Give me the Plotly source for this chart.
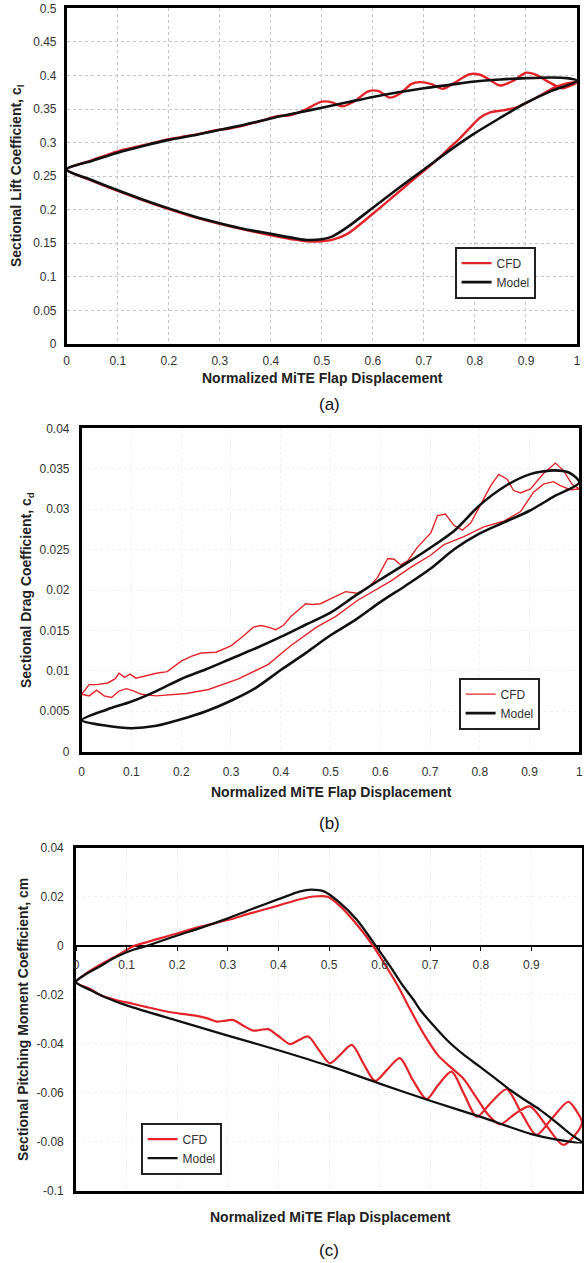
import plotly.graph_objects as go

W, H = 584, 1263
RED = "#e3242b"
BLACK = "#111111"
FONT = "Liberation Sans, Arial, sans-serif"

# ---------------- (a) sectional lift coefficient ----------------
lift_cfd_up_x = [0, 0.05, 0.1, 0.15, 0.2, 0.23, 0.26, 0.29, 0.32, 0.35, 0.38, 0.41, 0.44, 0.47,
                 0.5, 0.52, 0.54, 0.565, 0.59, 0.61, 0.633, 0.655, 0.675, 0.692, 0.715, 0.737,
                 0.76, 0.79, 0.81, 0.83, 0.849, 0.875, 0.9, 0.92, 0.945, 0.97, 0.985, 1.0]
lift_cfd_up_y = [0.26, 0.274, 0.287, 0.296, 0.305, 0.309, 0.313, 0.318, 0.321, 0.326, 0.332, 0.339,
                 0.341, 0.35, 0.361, 0.36, 0.354, 0.362, 0.376, 0.377, 0.367, 0.374, 0.387, 0.39,
                 0.387, 0.38, 0.389, 0.402, 0.401, 0.393, 0.385, 0.392, 0.404, 0.401, 0.39, 0.381,
                 0.384, 0.39]
lift_cfd_dn_x = [0.985, 0.97, 0.953, 0.935, 0.908, 0.88, 0.855, 0.83, 0.81, 0.79, 0.77, 0.75,
                 0.725, 0.7, 0.65, 0.6, 0.55, 0.52, 0.5, 0.47, 0.45, 0.4, 0.35, 0.3, 0.25, 0.2,
                 0.15, 0.1, 0.05, 0]
lift_cfd_dn_y = [0.389, 0.386, 0.381, 0.373, 0.362, 0.352, 0.348, 0.345, 0.337, 0.322, 0.306,
                 0.292, 0.274, 0.258, 0.226, 0.194, 0.164, 0.155, 0.153, 0.153, 0.155, 0.162,
                 0.17, 0.179, 0.189, 0.201, 0.214, 0.228, 0.243, 0.26]
lift_model_up_x = [0, 0.05, 0.1, 0.15, 0.2, 0.25, 0.3, 0.35, 0.4, 0.45, 0.5, 0.55, 0.6, 0.65,
                   0.7, 0.75, 0.8, 0.85, 0.9, 0.95, 0.98, 1.0]
lift_model_up_y = [0.26, 0.273, 0.285, 0.295, 0.304, 0.311, 0.319, 0.327, 0.336, 0.344, 0.352,
                   0.36, 0.368, 0.375, 0.381, 0.386, 0.391, 0.394, 0.396, 0.397, 0.396, 0.392]
lift_model_dn_x = [0.95, 0.9, 0.85, 0.8, 0.75, 0.7, 0.65, 0.6, 0.55, 0.52, 0.5, 0.47, 0.45, 0.4,
                   0.35, 0.3, 0.25, 0.2, 0.15, 0.1, 0.05, 0]
lift_model_dn_y = [0.377, 0.359, 0.337, 0.314, 0.288, 0.26, 0.232, 0.203, 0.174, 0.16, 0.156,
                   0.155, 0.157, 0.164, 0.171, 0.18, 0.19, 0.202, 0.215, 0.229, 0.244, 0.26]

# ---------------- (b) sectional drag coefficient ----------------
drag_cfd_up_x = [0, 0.015, 0.03, 0.052, 0.067, 0.075, 0.086, 0.097, 0.109, 0.13, 0.15, 0.172,
                 0.2, 0.22, 0.24, 0.27, 0.3, 0.325, 0.345, 0.36, 0.375, 0.39, 0.405, 0.42, 0.434,
                 0.45, 0.464, 0.48, 0.5, 0.53, 0.554, 0.574, 0.594, 0.615, 0.628, 0.641, 0.655,
                 0.675, 0.702, 0.715, 0.731, 0.748, 0.765, 0.782, 0.802, 0.822, 0.838, 0.855,
                 0.868, 0.882, 0.902, 0.928, 0.952, 0.968, 0.985, 1.0]
drag_cfd_up_y = [0.0071, 0.0083, 0.0083, 0.0085, 0.009, 0.0097, 0.0092, 0.0096, 0.0091, 0.0094,
                 0.0097, 0.0099, 0.0112, 0.0118, 0.0122, 0.0123, 0.0131, 0.0143, 0.0154, 0.0156,
                 0.0154, 0.0151, 0.0156, 0.0167, 0.0175, 0.0183, 0.0182, 0.0183, 0.0189, 0.0198,
                 0.0196, 0.0202, 0.0215, 0.0239, 0.0238, 0.0231, 0.0236, 0.0253, 0.0271, 0.0292,
                 0.0294, 0.028, 0.0274, 0.0283, 0.0306, 0.0329, 0.0343, 0.0337, 0.0323, 0.032,
                 0.0325, 0.0344, 0.0357, 0.0348, 0.0331, 0.0325]
drag_cfd_dn_x = [0.982, 0.962, 0.948, 0.928, 0.908, 0.882, 0.848, 0.808, 0.768, 0.728, 0.701,
                 0.661, 0.621, 0.554, 0.51, 0.472, 0.42, 0.375, 0.315, 0.255, 0.21, 0.15, 0.12,
                 0.105, 0.09, 0.075, 0.06, 0.045, 0.03, 0.015, 0]
drag_cfd_dn_y = [0.0324, 0.0329, 0.0334, 0.0331, 0.0321, 0.0297, 0.0285, 0.0278, 0.0266, 0.0256,
                 0.0243, 0.0228, 0.0211, 0.0187, 0.0167, 0.0154, 0.0131, 0.0108, 0.009, 0.0077,
                 0.0072, 0.0069, 0.0071, 0.0075, 0.0078, 0.0075, 0.0067, 0.0069, 0.0076, 0.0069,
                 0.0071]
drag_model_up_x = [0, 0.05, 0.1, 0.15, 0.2, 0.25, 0.3, 0.35, 0.4, 0.45, 0.5, 0.55, 0.6, 0.65,
                   0.7, 0.75, 0.8, 0.85, 0.9, 0.95, 0.98, 1.0]
drag_model_up_y = [0.0039, 0.0052, 0.0062, 0.0075, 0.009, 0.0102, 0.0115, 0.0128, 0.0142,
                   0.0157, 0.0172, 0.0193, 0.0213, 0.0232, 0.0252, 0.0274, 0.0305, 0.0328,
                   0.0343, 0.0348, 0.0345, 0.0333]
drag_model_dn_x = [0.95, 0.9, 0.85, 0.8, 0.75, 0.7, 0.65, 0.6, 0.55, 0.5, 0.45, 0.4, 0.35, 0.3,
                   0.25, 0.2, 0.15, 0.1, 0.05, 0]
drag_model_dn_y = [0.0316, 0.0298, 0.0284, 0.027, 0.0251, 0.0226, 0.0205, 0.0185, 0.0163,
                   0.0144, 0.0122, 0.0101, 0.0079, 0.0063, 0.005, 0.004, 0.0032, 0.0029, 0.0032,
                   0.0039]

# ---------------- (c) sectional pitching moment coefficient ----------------
mom_cfd_up_x = [0, 0.02, 0.047, 0.075, 0.1, 0.113, 0.14, 0.179, 0.245, 0.3, 0.344, 0.4, 0.443,
                0.47, 0.497, 0.522, 0.555, 0.588, 0.621, 0.64, 0.66, 0.686, 0.716, 0.742, 0.765,
                0.79, 0.815, 0.838, 0.868, 0.897, 0.93, 0.963, 0.985, 1.0]
mom_cfd_up_y = [-0.0148, -0.0113, -0.0078, -0.0047, -0.0017, -0.0002, 0.0015, 0.0038, 0.0077,
                0.0105, 0.0132, 0.0164, 0.019, 0.0201, 0.02, 0.0162, 0.0087, -0.0003, -0.0111,
                -0.0178, -0.0258, -0.0355, -0.0448, -0.0498, -0.054, -0.0615, -0.069, -0.0728,
                -0.0685, -0.0655, -0.0735, -0.0812, -0.0775, -0.072]
mom_cfd_dn_x = [0.988, 0.973, 0.94, 0.91, 0.88, 0.851, 0.82, 0.792, 0.767, 0.742, 0.715, 0.693,
                0.665, 0.64, 0.615, 0.591, 0.568, 0.545, 0.522, 0.502, 0.48, 0.459, 0.44, 0.423,
                0.4, 0.38, 0.365, 0.35, 0.33, 0.311, 0.295, 0.278, 0.26, 0.239, 0.21, 0.179,
                0.14, 0.107, 0.08, 0.047, 0.03, 0]
mom_cfd_dn_y = [-0.067, -0.0636, -0.0705, -0.0771, -0.068, -0.0585, -0.064, -0.0697, -0.0605,
                -0.0513, -0.057, -0.0625, -0.0545, -0.0458, -0.0505, -0.0551, -0.048, -0.0404,
                -0.0445, -0.0479, -0.0425, -0.037, -0.0385, -0.0401, -0.0368, -0.034, -0.0343,
                -0.0346, -0.0325, -0.0303, -0.0305, -0.0309, -0.0296, -0.0286, -0.0278,
                -0.0268, -0.025, -0.0234, -0.0222, -0.02, -0.0178, -0.0148]
mom_model_up_x = [0, 0.02, 0.047, 0.08, 0.113, 0.14, 0.2, 0.245, 0.3, 0.344, 0.4, 0.443, 0.465,
                  0.49, 0.52, 0.555, 0.591, 0.621, 0.645, 0.667, 0.68, 0.7, 0.733, 0.765, 0.798,
                  0.828, 0.858, 0.888, 0.917, 0.94, 0.963, 0.98, 1.0]
mom_model_up_y = [-0.0148, -0.0115, -0.0084, -0.0045, -0.0016, 0.0, 0.0042, 0.0072, 0.0112,
                  0.0147, 0.019, 0.0222, 0.0229, 0.0222, 0.0178, 0.0106, 0.0004, -0.0084,
                  -0.016, -0.022, -0.0261, -0.031, -0.0384, -0.0442, -0.0493, -0.054, -0.0588,
                  -0.063, -0.0669, -0.0705, -0.0744, -0.0772, -0.0802]
mom_model_dn_x = [0.95, 0.9, 0.8, 0.7, 0.6, 0.5, 0.4, 0.3, 0.2, 0.1, 0.06, 0.03, 0]
mom_model_dn_y = [-0.079, -0.0768, -0.0698, -0.0632, -0.0562, -0.049, -0.0426, -0.0366,
                  -0.0305, -0.0243, -0.0212, -0.0182, -0.0148]

# ---------------- axis ticks ----------------
x_tickvals = [0, 0.1, 0.2, 0.3, 0.4, 0.5, 0.6, 0.7, 0.8, 0.9, 1]
x_ticktext = ["0", "0.1", "0.2", "0.3", "0.4", "0.5", "0.6", "0.7", "0.8", "0.9", "1"]
mom_x_tickvals = [0, 0.1, 0.2, 0.3, 0.4, 0.5, 0.6, 0.7, 0.8, 0.9]
mom_x_ticktext = ["0", "0.1", "0.2", "0.3", "0.4", "0.5", "0.6", "0.7", "0.8", "0.9"]
lift_tickvals = [0, 0.05, 0.1, 0.15, 0.2, 0.25, 0.3, 0.35, 0.4, 0.45, 0.5]
lift_ticktext = ["0", "0.05", "0.1", "0.15", "0.2", "0.25", "0.3", "0.35", "0.4", "0.45", "0.5"]
drag_tickvals = [0, 0.005, 0.01, 0.015, 0.02, 0.025, 0.03, 0.035, 0.04]
drag_ticktext = ["0", "0.005", "0.01", "0.015", "0.02", "0.025", "0.03", "0.035", "0.04"]
mom_tickvals = [-0.1, -0.08, -0.06, -0.04, -0.02, 0, 0.02, 0.04]
mom_ticktext = ["-0.1", "-0.08", "-0.06", "-0.04", "-0.02", "0", "0.02", "0.04"]

X_TITLE = "Normalized MiTE Flap Displacement"


def px(p):
    return p / W


def py(p):
    return 1 - p / H


fig = go.Figure()


def add_pair(cx, cy, mx, my, xa, ya, legend, red_w, black_w, red_shape, xa_model=None):
    fig.add_trace(go.Scatter(x=cx, y=cy, mode="lines", name="CFD", xaxis=xa, yaxis=ya,
                             legend=legend,
                             line=dict(color=RED, width=red_w, shape=red_shape, smoothing=0.8)))
    fig.add_trace(go.Scatter(x=mx, y=my, mode="lines", name="Model",
                             xaxis=xa_model or xa, yaxis=ya, legend=legend,
                             line=dict(color=BLACK, width=black_w, shape="spline",
                                       smoothing=0.8)))


add_pair(lift_cfd_up_x + lift_cfd_dn_x, lift_cfd_up_y + lift_cfd_dn_y,
         lift_model_up_x + lift_model_dn_x, lift_model_up_y + lift_model_dn_y,
         "x", "y", "legend", 2.4, 2.6, "spline")
add_pair(drag_cfd_up_x + drag_cfd_dn_x, drag_cfd_up_y + drag_cfd_dn_y,
         drag_model_up_x + drag_model_dn_x, drag_model_up_y + drag_model_dn_y,
         "x2", "y2", "legend2", 1.4, 2.6, "linear")
add_pair(mom_cfd_up_x + mom_cfd_dn_x, mom_cfd_up_y + mom_cfd_dn_y,
         mom_model_up_x + mom_model_dn_x, mom_model_up_y + mom_model_dn_y,
         "x3", "y3", "legend3", 2.2, 2.3, "spline", xa_model="x4")

tick_font = dict(family=FONT, size=12, color="#333333")
frame = dict(showline=True, linecolor="black", linewidth=2.6, mirror=True, zeroline=False,
             ticks="", automargin=False, tickfont=tick_font)

# panel domains (pixel edges of each plot frame)
dom_a = ([px(66.7), px(577)], [py(344), py(8.3)])
dom_b = ([px(81.7), px(579.3)], [py(751.7), py(428.3)])
dom_c = ([px(76), px(582)], [py(1191), py(847.7)])

fig.update_layout(
    width=W, height=H, margin=dict(l=0, r=0, t=0, b=0),
    paper_bgcolor="white", plot_bgcolor="white",
    font=dict(family=FONT, size=12, color="#333333"),
    xaxis=dict(domain=dom_a[0], anchor="y", range=[0, 1], tickvals=x_tickvals,
               ticktext=x_ticktext, showgrid=True, gridcolor="#c4c4c4", griddash="dot",
               gridwidth=1, ticklabelstandoff=4, **frame),
    yaxis=dict(domain=dom_a[1], anchor="x", range=[0, 0.5], tickvals=lift_tickvals,
               ticktext=lift_ticktext, showgrid=True, gridcolor="#c4c4c4", griddash="dot",
               gridwidth=1, ticklabelstandoff=5, **frame),
    xaxis2=dict(domain=dom_b[0], anchor="y2", range=[0, 1], tickvals=x_tickvals,
                ticktext=x_ticktext, showgrid=True, gridcolor="#f1f1f1", griddash="dot",
                ticklabelstandoff=7, **frame),
    yaxis2=dict(domain=dom_b[1], anchor="x2", range=[0, 0.04], tickvals=drag_tickvals,
                ticktext=drag_ticktext, showgrid=True, gridcolor="#f1f1f1", griddash="dot",
                ticklabelstandoff=7, **frame),
    xaxis3=dict(domain=dom_c[0], anchor="y3", range=[0, 1], tickvals=mom_x_tickvals,
                showticklabels=False, showgrid=True, gridcolor="#f1f1f1", griddash="dot",
                **frame),
    yaxis3=dict(domain=dom_c[1], anchor="x3", range=[-0.1, 0.04], tickvals=mom_tickvals,
                ticktext=mom_ticktext, showgrid=True, gridcolor="#f1f1f1", griddash="dot",
                ticklabelstandoff=7, **{**frame, "zeroline": True}, zerolinecolor="black",
                zerolinewidth=1.6),
    xaxis4=dict(overlaying="x3", anchor="free", position=py(945.7), side="bottom",
                range=[0, 1], tickvals=mom_x_tickvals, ticktext=mom_x_ticktext,
                showgrid=False, zeroline=False, showline=False, ticks="outside", ticklen=4,
                tickcolor="black", tickwidth=1, ticklabelstandoff=4, tickfont=tick_font,
                automargin=False),
)

legend_style = dict(bgcolor="white", bordercolor="#222222", borderwidth=1.6,
                    font=dict(family=FONT, size=12, color="#333333"),
                    xanchor="left", yanchor="top", tracegroupgap=0, itemwidth=30)
fig.update_layout(
    legend=dict(x=px(455), y=py(247), **legend_style),
    legend2=dict(x=px(459), y=py(678), **legend_style),
    legend3=dict(x=px(141), y=py(1123), **legend_style),
)

title_font = dict(family=FONT, size=14, color="#222222", weight="bold")
annotations = [
    # x-axis titles
    dict(text=X_TITLE, x=px(322), y=py(378)),
    dict(text=X_TITLE, x=px(331), y=py(792)),
    dict(text=X_TITLE, x=px(330), y=py(1217)),
    # y-axis titles
    dict(text="Sectional Lift Coefficient, c<sub>l</sub>", x=px(17), y=py(176), textangle=-90),
    dict(text="Sectional Drag Coefficient, c<sub>d</sub>", x=px(27), y=py(590), textangle=-90),
    dict(text="Sectional Pitching Moment Coefficient, cm", x=px(23), y=py(1020),
         textangle=-90),
]
for a in annotations:
    fig.add_annotation(xref="paper", yref="paper", showarrow=False, xanchor="center",
                       yanchor="middle", font=title_font, **a)

for label, ypix in (("(a)", 405), ("(b)", 823), ("(c)", 1250)):
    fig.add_annotation(text=label, xref="paper", yref="paper", x=px(329), y=py(ypix),
                       showarrow=False, xanchor="center", yanchor="middle",
                       font=dict(family=FONT, size=17, color="#111111"))

fig.write_html("out.html")
